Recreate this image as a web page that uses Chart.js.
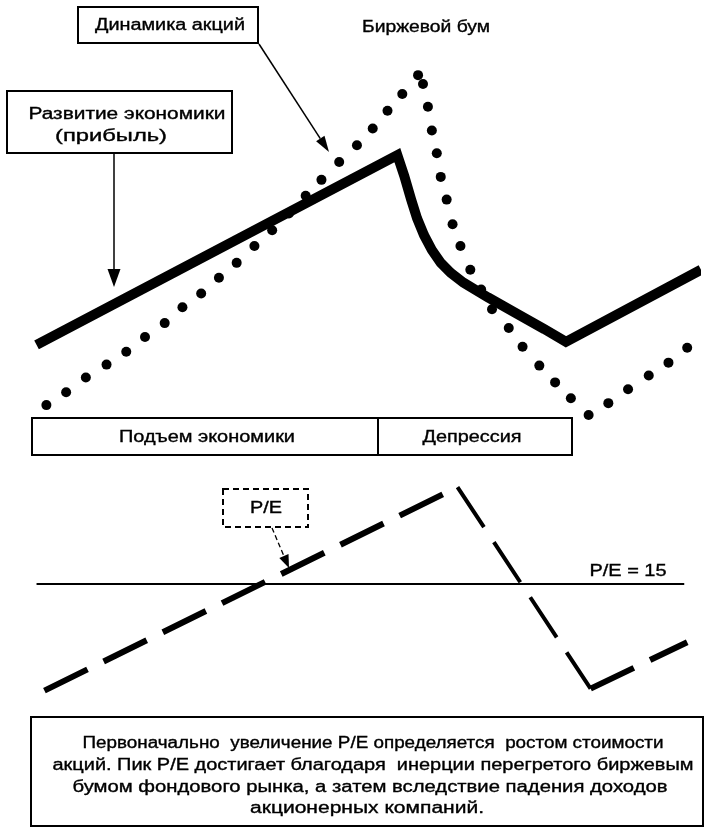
<!DOCTYPE html>
<html><head><meta charset="utf-8">
<script src="https://cdn.jsdelivr.net/npm/chart.js@4/dist/chart.umd.min.js"></script>
<style>html,body{margin:0;padding:0;background:#fff;}canvas{display:block;}</style>
</head><body>
<canvas id="c" width="706" height="828"></canvas>
<script>
// ---- data (time units along x; level units on the top axis; P/E units on the bottom axis)
const profitX = [32, 398, 405, 412, 418, 425, 433, 442, 452, 465, 490, 520, 547, 569, 706];
const profitY = [29, 77, 71.75, 65.75, 61, 56.75, 53, 49.75, 47.25, 44.75, 41, 36.75, 33, 29.75, 48];

const stockX = [42, 62, 82, 103, 123, 142, 162, 180, 199, 217, 235, 253, 271, 288, 305, 321, 339, 357, 373, 388, 403, 419, 424,
  429, 433, 438, 442, 448, 454, 462, 472, 483, 494, 511, 525, 542, 558, 574, 592, 612, 632, 653, 673, 692];
const stockY = [13.75, 17, 20.75, 24, 27.25, 31, 34.5, 38.5, 42, 46, 49.75, 54, 58, 62.25, 66.75, 70.75, 75.25, 79.5, 83.75, 88.25, 92.5, 97.25, 95,
  89.25, 83.25, 77.5, 71.5, 65.75, 59.5, 54, 48, 43, 38, 33.25, 28.5, 23.75, 19.5, 15.5, 11.25, 14.25, 17.75, 21.25, 24.5, 28.25];

const peX = [40, 459, 594, 692];
const peY = [4.2, 24.8, 4.4, 9.1];

const peRefX = [32, 689];
const peRefValue = 15;

const phaseLabels = ['Подъем экономики', 'Депрессия'];
const noteLines = [
  'Первоначально  увеличение P/E определяется  ростом стоимости',
  'акций. Пик P/E достигает благодаря  инерции перегретого биржевым',
  'бумом фондового рынка, а затем вследствие падения доходов',
  'акционерных компаний.'
];

const FONT = '"Liberation Sans", Arial, sans-serif';

function pts(xs, ys) { return xs.map((x, i) => ({ x: x, y: ys[i] })); }

function fitText(ctx, text, cx, cy, w, size) {
  ctx.save();
  ctx.font = size + 'px ' + FONT;
  ctx.textBaseline = 'middle';
  ctx.textAlign = 'left';
  const m = ctx.measureText(text).width;
  const sx = w / m;
  ctx.translate(cx - w / 2, cy);
  ctx.scale(sx, 1);
  ctx.fillStyle = '#000';
  ctx.strokeStyle = '#000';
  ctx.lineWidth = 0.35;
  ctx.fillText(text, 0, 0);
  ctx.strokeText(text, 0, 0);
  ctx.restore();
}

function arrow(ctx, x1, y1, x2, y2, lw, dash, headLen, headW) {
  ctx.save();
  ctx.strokeStyle = '#000';
  ctx.fillStyle = '#000';
  ctx.lineWidth = lw;
  ctx.setLineDash(dash || []);
  const a = Math.atan2(y2 - y1, x2 - x1);
  const bx = x2 - Math.cos(a) * headLen, by = y2 - Math.sin(a) * headLen;
  ctx.beginPath(); ctx.moveTo(x1, y1); ctx.lineTo(bx, by); ctx.stroke();
  ctx.setLineDash([]);
  ctx.beginPath();
  ctx.moveTo(x2, y2);
  ctx.lineTo(bx + Math.sin(a) * headW / 2, by - Math.cos(a) * headW / 2);
  ctx.lineTo(bx - Math.sin(a) * headW / 2, by + Math.cos(a) * headW / 2);
  ctx.closePath(); ctx.fill();
  ctx.restore();
}

function box(ctx, x1, y1, x2, y2, lw, dash) {
  ctx.save();
  ctx.strokeStyle = '#000';
  ctx.lineWidth = lw;
  ctx.setLineDash(dash || []);
  ctx.strokeRect(x1, y1, x2 - x1, y2 - y1);
  ctx.restore();
}

const bgPlugin = {
  id: 'bg',
  beforeDraw(chart) {
    const ctx = chart.ctx;
    ctx.save(); ctx.fillStyle = '#fff'; ctx.fillRect(0, 0, chart.width, chart.height); ctx.restore();
  }
};

const notesPlugin = {
  id: 'notes',
  afterDraw(chart) {
    const ctx = chart.ctx;
    // label boxes
    box(ctx, 78, 7, 258, 43, 2);
    fitText(ctx, 'Динамика акций', 170, 26, 150, 16);
    arrow(ctx, 259, 44, 329, 152, 1.5, null, 16, 10);

    fitText(ctx, 'Биржевой бум', 426, 28, 128, 16);

    box(ctx, 7, 91, 232, 153, 2);
    fitText(ctx, 'Развитие экономики', 127, 115, 197, 16);
    fitText(ctx, '(прибыль)', 111, 137, 112, 16);
    arrow(ctx, 114, 153, 114, 287, 1.5, null, 18, 13);

    // phase bar
    box(ctx, 32, 418, 572, 455, 2);
    ctx.save(); ctx.strokeStyle = '#000'; ctx.lineWidth = 2;
    ctx.beginPath(); ctx.moveTo(378, 418); ctx.lineTo(378, 455); ctx.stroke(); ctx.restore();
    fitText(ctx, phaseLabels[0], 207, 438, 176, 16);
    fitText(ctx, phaseLabels[1], 472, 438, 99, 16);

    // P/E label
    box(ctx, 223, 489, 308, 527, 2, [6, 4]);
    fitText(ctx, 'P/E', 266, 509, 32, 16);
    arrow(ctx, 272, 528, 289, 568, 1.3, [5, 3], 13, 10);
    fitText(ctx, 'P/E = ' + peRefValue, 628, 572, 77, 16);

    // note box
    box(ctx, 31, 717, 703, 826, 2);
    const ys = [744, 766, 788, 809];
    const cxs = [373, 373, 370, 367];
    const ws = [581, 641, 595, 234];
    noteLines.forEach((t, i) => fitText(ctx, t, cxs[i], ys[i], ws[i], 16));
  }
};

new Chart(document.getElementById('c'), {
  type: 'scatter',
  data: {
    datasets: [
      {
        label: 'Развитие экономики (прибыль)',
        data: pts(profitX, profitY),
        yAxisID: 'yTop',
        showLine: true,
        borderColor: '#000',
        borderWidth: 10,
        borderJoinStyle: 'miter',
        borderCapStyle: 'butt',
        tension: 0,
        pointRadius: 0
      },
      {
        label: 'Динамика акций',
        data: pts(stockX, stockY),
        yAxisID: 'yTop',
        showLine: false,
        pointRadius: 5,
        pointBackgroundColor: '#000',
        pointBorderWidth: 0,
        borderWidth: 0
      },
      {
        label: 'P/E',
        data: pts(peX, peY),
        yAxisID: 'yPE',
        showLine: true,
        borderColor: '#000',
        borderWidth: 6,
        borderDash: [48, 18],
        borderCapStyle: 'butt',
        tension: 0,
        pointRadius: 0,
        segment: {
          borderWidth: c => c.p0DataIndex === 1 ? 4 : 6
        }
      },
      {
        label: 'P/E = 15',
        data: peRefX.map(x => ({ x: x, y: peRefValue })),
        yAxisID: 'yPE',
        showLine: true,
        borderColor: '#000',
        borderWidth: 2,
        pointRadius: 0
      }
    ]
  },
  options: {
    responsive: false,
    devicePixelRatio: 1,
    animation: false,
    layout: { padding: 0 },
    plugins: { legend: { display: false }, tooltip: { enabled: false } },
    scales: {
      x: { type: 'linear', min: 0, max: 706, display: false },
      yTop: { type: 'linear', position: 'left', min: -92, max: 115, display: false },
      yPE: { type: 'linear', position: 'right', min: -9.2, max: 73.6, display: false }
    }
  },
  plugins: [bgPlugin, notesPlugin]
});
</script>
</body></html>
